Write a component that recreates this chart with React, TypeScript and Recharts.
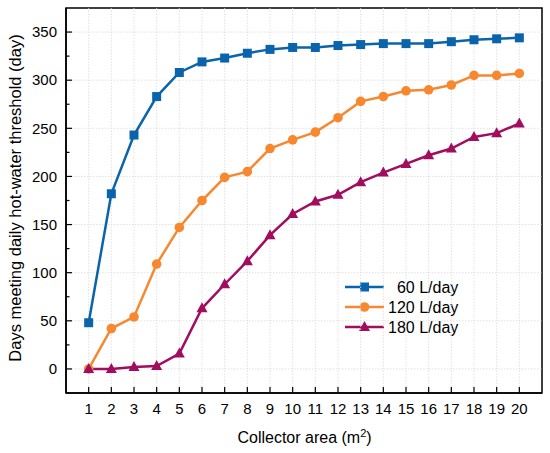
import React from "react";
import { LineChart, Line, XAxis, YAxis, ReferenceLine, ReferenceArea } from "recharts";

const areas = [1, 2, 3, 4, 5, 6, 7, 8, 9, 10, 11, 12, 13, 14, 15, 16, 17, 18, 19, 20];
const s60 = [48, 182, 243, 283, 308, 319, 323, 328, 332, 334, 334, 336, 337, 338, 338, 338, 340, 342, 343, 344];
const s120 = [0, 42, 54, 109, 147, 175, 199, 205, 229, 238, 246, 261, 278, 283, 289, 290, 295, 305, 305, 307];
const s180 = [0, 0, 2, 3, 16, 63, 88, 112, 139, 161, 174, 181, 194, 204, 213, 222, 229, 241, 245, 255];
const yMajor = [0, 50, 100, 150, 200, 250, 300, 350];
const yAllTicks = [0, 25, 50, 75, 100, 125, 150, 175, 200, 225, 250, 275, 300, 325, 350];
const seriesNames = ["  60 L/day", "120 L/day", "180 L/day"];
const colors = ["#0a64ac", "#f7882f", "#a10d5f"];

const data = areas.map((a, i) => ({ area: a, s60: s60[i], s120: s120[i], s180: s180[i] }));

const FONT = "Liberation Sans, Arial, sans-serif";

const YTick = (props: any) => {
  const { x, y, payload } = props;
  const major = yMajor.includes(payload.value);
  return (
    <g>
      <line x1={x} y1={y} x2={x + (major ? 6 : 3.5)} y2={y} stroke="#000" strokeWidth={1.2} />
      {major && (
        <text x={x - 9} y={y} dy="0.35em" textAnchor="end" fontSize={15} fontFamily={FONT} fill="#000">
          {payload.value}
        </text>
      )}
    </g>
  );
};

const XTick = (props: any) => {
  const { x, y, payload } = props;
  return (
    <g>
      <line x1={x} y1={y} x2={x} y2={y - 6} stroke="#000" strokeWidth={1.2} />
      <text x={x} y={y + 21} textAnchor="middle" fontSize={15} fontFamily={FONT} fill="#000">
        {payload.value}
      </text>
    </g>
  );
};

const Square = (props: any) => {
  const { cx, cy, fill } = props;
  return <rect x={cx - 4.5} y={cy - 4.5} width={9} height={9} fill={fill} />;
};
const Circle = (props: any) => {
  const { cx, cy, fill } = props;
  return <circle cx={cx} cy={cy} r={4.8} fill={fill} />;
};
const Triangle = (props: any) => {
  const { cx, cy, fill } = props;
  return <polygon points={`${cx},${cy - 6} ${cx - 5.5},${cy + 4} ${cx + 5.5},${cy + 4}`} fill={fill} />;
};

const legendX = 345;
const legendY = 287;
const legendMarkers = [
  (cx: number, cy: number) => <rect x={cx - 4.5} y={cy - 4.5} width={9} height={9} fill={colors[0]} />,
  (cx: number, cy: number) => <circle cx={cx} cy={cy} r={4.8} fill={colors[1]} />,
  (cx: number, cy: number) => (
    <polygon points={`${cx},${cy - 6} ${cx - 5.5},${cy + 4} ${cx + 5.5},${cy + 4}`} fill={colors[2]} />
  ),
];

export default function App() {
  return (
    <div style={{ position: "absolute", left: 0, top: 0, background: "#fff" }}>
      <LineChart width={550} height={453} data={data} margin={{ top: 8, right: 8, left: 10, bottom: 0 }}>
        {yMajor.map((v) => (
          <ReferenceLine key={"h" + v} y={v} stroke="#d9d9d9" strokeDasharray="1.5 1.5" strokeWidth={0.8} />
        ))}
        {areas.map((v) => (
          <ReferenceLine key={"v" + v} x={v} stroke="#d9d9d9" strokeDasharray="1.5 1.5" strokeWidth={0.8} />
        ))}
        <ReferenceArea x1={0} x2={21} y1={-25} y2={375} fill="none" stroke="#000" strokeWidth={1.5} />
        <XAxis
          dataKey="area"
          type="number"
          domain={[0, 21]}
          ticks={areas}
          interval={0}
          height={60}
          tickSize={0}
          tickMargin={0}
          tickLine={false}
          tick={<XTick />}
          axisLine={{ stroke: "#000", strokeWidth: 1.5 }}
          allowDataOverflow
        />
        <YAxis
          type="number"
          domain={[-25, 375]}
          ticks={yAllTicks}
          interval={0}
          width={56}
          tickSize={0}
          tickMargin={0}
          tickLine={false}
          tick={<YTick />}
          axisLine={{ stroke: "#000", strokeWidth: 1.5 }}
          allowDataOverflow
        />
        <Line dataKey="s60" stroke={colors[0]} strokeWidth={2.5} dot={<Square />} fill={colors[0]} isAnimationActive={false} />
        <Line dataKey="s120" stroke={colors[1]} strokeWidth={2.5} dot={<Circle />} fill={colors[1]} isAnimationActive={false} />
        <Line dataKey="s180" stroke={colors[2]} strokeWidth={2.5} dot={<Triangle />} fill={colors[2]} isAnimationActive={false} />
        <g>
          {seriesNames.map((n, i) => {
            const cy = legendY + i * 20;
            return (
              <g key={i}>
                <line x1={legendX} y1={cy} x2={legendX + 39} y2={cy} stroke={colors[i]} strokeWidth={2.5} />
                {legendMarkers[i](legendX + 19.5, cy)}
                <text x={legendX + 43} y={cy} dy="0.36em" fontSize={16} fontFamily={FONT} fill="#000" style={{ whiteSpace: "pre" }}>
                  {n}
                </text>
              </g>
            );
          })}
        </g>
        <text x={304.5} y={443} textAnchor="middle" fontSize={16} fontFamily={FONT} fill="#000">
          Collector area (m<tspan dy={-6} fontSize={11}>2</tspan><tspan dy={6}>)</tspan>
        </text>
        <text
          x={0}
          y={0}
          transform="translate(20.5,198) rotate(-90)"
          textAnchor="middle"
          fontSize={16.5}
          fontFamily={FONT}
          fill="#000"
        >
          Days meeting daily hot-water threshold (day)
        </text>
      </LineChart>
    </div>
  );
}
